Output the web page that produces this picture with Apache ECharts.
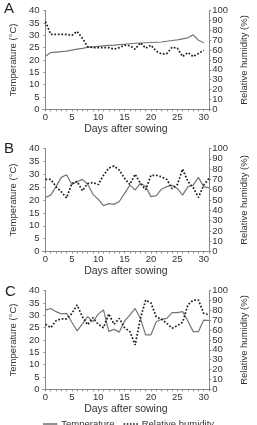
<!DOCTYPE html>
<html><head><meta charset="utf-8">
<script src="https://cdn.jsdelivr.net/npm/echarts@6/dist/echarts.min.js"></script>
<style>html,body{margin:0;padding:0;background:#fff}#c{width:257px;height:425px}</style>
</head><body><div id="c"></div>
<script>
const days = [0,1,2,3,4,5,6,7,8,9,10,11,12,13,14,15,16,17,18,19,20,21,22,23,24,25,26,27,28,29,30,31];
const xTickLabels = [0,5,10,15,20,25,30];
const panelLabels = ['A','B','C'];
const seriesNames = ['Temperature','Relative humidity'];

const tempA = [21.5,23.0,23.2,23.4,23.6,24.0,24.4,24.7,25.1,25.3,25.5,25.7,25.9,26.0,26.2,26.4,26.6,26.8,26.9,27.0,27.1,27.2,27.3,27.6,27.9,28.2,28.6,29.0,30.2,28.0,27.0];
const rhA = [89,76,76,76,76,75,79,72,63.5,62.5,62.5,62.5,62.5,61,62.5,65,64.5,61,67.5,62,65,59,56,56.5,63,62,53.5,57.5,53.5,56.5,60];

const tempB = [21.0,21.9,25.2,28.8,29.8,26.0,27.1,28.0,26.1,22.2,20.3,17.8,18.6,18.3,19.4,22.6,25.8,23.9,26.5,25.2,21.3,21.7,24.2,25.2,25.7,24.5,21.9,25.2,25.8,28.8,25.2,24.7];
const rhB = [70,70,63,58,52,66,68,59,66,67,65,74,81,83,79,71,65,75,66,60,74,74,72.5,70,61,65,80,68,62,52.5,64.5,71];

const tempC = [32.1,32.8,31.5,30.6,30.8,27.2,23.7,26.5,29.5,27.4,30.5,32.2,23.5,24.3,23.2,27.7,30.1,32.8,28.8,22.1,22.1,27.4,28.4,28.8,31.1,31.1,31.5,27.7,23.4,23.4,28.1,27.9];
const rhC = [66,62.5,69.5,71.5,71.5,77,85.5,73.5,65.5,72.5,66,62.5,76.5,66,72,62.5,58.5,45,72,90.5,87.5,73.5,71,67,62,64.5,68,85.5,90.5,90.5,77,75.5];

const temps = [tempA, tempB, tempC];
const rhs = [rhA, rhB, rhC];

const FONT = "'Liberation Sans', Arial, sans-serif";
const TXT = '#333';
const AX = '#8a8a8a';
const TCOL = '#767676';
const RCOL = '#1a1a1a';
const grids = [
  {left: 37.7, right: 37.5, top: 10.7, height: 98.6},
  {left: 37.7, right: 37.5, top: 148.5, height: 103},
  {left: 37.7, right: 37.5, top: 290.7, height: 98.6}
];
const letterPos = [[4,1],[4,141],[5,284]];

function pairs(arr){ return arr.map((v,i)=>[days[i], v]); }

const xAxis = [], yAxis = [], series = [], graphic = [];
grids.forEach((g, i) => {
  xAxis.push({
    type: 'value', gridIndex: i, min: -0.57, max: 31.05,
    name: 'Days after sowing', nameLocation: 'middle', nameGap: 13,
    nameTextStyle: {fontFamily: FONT, fontSize: 10.5, color: TXT},
    axisLine: {show: true, lineStyle: {color: AX, width: 1}},
    axisTick: {show: true, length: 2, lineStyle: {color: AX}, customValues: days},
    axisLabel: {fontFamily: FONT, fontSize: 9.5, color: TXT, margin: 3, customValues: xTickLabels},
    splitLine: {show: false}
  });
  yAxis.push({
    type: 'value', gridIndex: i, min: 0, max: 40, interval: 5, position: 'left',
    name: 'Temperature (°C)', nameLocation: 'middle', nameGap: 21, nameRotate: 90,
    nameTextStyle: {fontFamily: FONT, fontSize: 9.5, color: TXT},
    axisLine: {show: true, lineStyle: {color: AX, width: 1}},
    axisTick: {show: true, length: 2, lineStyle: {color: AX}},
    axisLabel: {fontFamily: FONT, fontSize: 9.5, color: TXT, margin: 3},
    splitLine: {show: false}
  });
  yAxis.push({
    type: 'value', gridIndex: i, min: 0, max: 100, interval: 10, position: 'right',
    name: 'Relative humidity (%)', nameLocation: 'middle', nameGap: 25, nameRotate: 90,
    nameTextStyle: {fontFamily: FONT, fontSize: 9.5, color: TXT},
    axisLine: {show: true, lineStyle: {color: AX, width: 1}},
    axisTick: {show: true, length: 2, lineStyle: {color: AX}},
    axisLabel: {fontFamily: FONT, fontSize: 9.5, color: TXT, margin: 3},
    splitLine: {show: false}
  });
  series.push({
    name: seriesNames[0], type: 'line', xAxisIndex: i, yAxisIndex: 2*i,
    data: pairs(temps[i]), symbol: 'none', smooth: false,
    lineStyle: {color: TCOL, width: 1.2, type: 'solid'}, itemStyle: {color: TCOL}
  });
  series.push({
    name: seriesNames[1], type: 'line', xAxisIndex: i, yAxisIndex: 2*i+1,
    data: pairs(rhs[i]), symbol: 'none',
    lineStyle: {color: RCOL, width: 1.7, type: [1.7, 1.8]}, itemStyle: {color: RCOL}
  });
  graphic.push({
    type: 'text', left: letterPos[i][0], top: letterPos[i][1],
    style: {text: panelLabels[i], fontFamily: FONT, fontSize: 15, fill: '#222'}
  });
});

const chart = echarts.init(document.getElementById('c'), null, {renderer: 'canvas'});
chart.setOption({
  animation: false,
  backgroundColor: '#fff',
  grid: grids,
  xAxis: xAxis,
  yAxis: yAxis,
  series: series,
  graphic: graphic,
  legend: {
    data: [
      {name: seriesNames[0], icon: 'path://M0,0h18v2h-18z', itemStyle: {color: TCOL}},
      {name: seriesNames[1], icon: 'path://M0,0h2v2h-2zM4,0h2v2h-2zM8,0h2v2h-2zM12,0h2v2h-2zM16,0h2v2h-2z', itemStyle: {color: RCOL}}
    ],
    left: 38, top: 414, itemWidth: 18, itemHeight: 1.6, itemGap: 9,
    textStyle: {fontFamily: FONT, fontSize: 9.5, color: TXT, padding: [0,0,0,-3]}
  }
});
</script></body></html>
